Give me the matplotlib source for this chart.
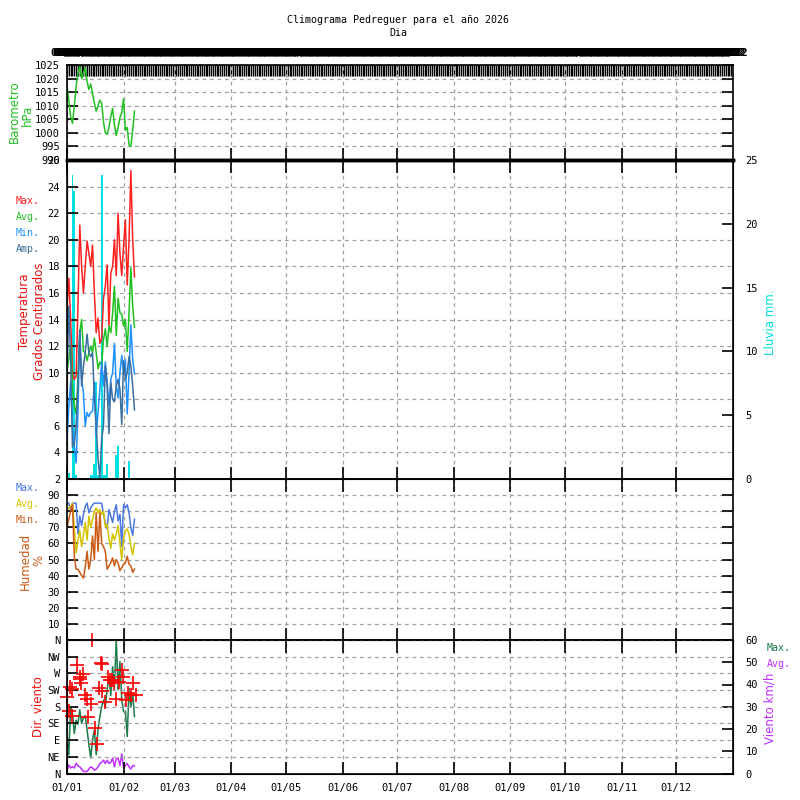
import matplotlib
matplotlib.use('Agg')
import matplotlib.pyplot as plt
import numpy as np
import datetime as dt

plt.rcParams['font.family'] = ['DejaVu Sans Mono']
plt.rcParams['font.size'] = 7.5

# ---------------- data ----------------
days = list(range(38))

baro = [1017.5, 1012, 1006, 1003.5, 1010, 1017, 1022, 1024.5, 1020, 1022, 1024, 1019,
        1016, 1018, 1014.5, 1011, 1008, 1010, 1012, 1011, 1004, 1000, 999.5, 1002,
        1006, 1009, 1003, 999, 1002, 1005.5, 1007.5, 1012.5, 1001, 1002, 995.5, 995,
        1001, 1008]

t_max = [14.9, 17.1, 14, 10, 9.5, 9.7, 15, 21.1, 18, 16, 18, 19.9, 19, 18, 19.6, 16,
         13, 14.1, 12.2, 12.5, 15.6, 16.5, 18.1, 13.5, 17.5, 18, 20, 17.3, 22, 19,
         17.3, 19.5, 21.5, 16.6, 20, 25.2, 20, 17.2]
t_avg = [10.1, 11, 12.1, 9, 7.5, 6.9, 9.5, 13, 14, 11.6, 11.5, 10.9, 11.5, 12, 11.5,
         12.6, 11.5, 10.3, 10.8, 10.6, 12.5, 13.3, 12, 13.5, 13, 14.5, 16.5, 12.8,
         15.6, 14.5, 14.4, 13.5, 14, 11.6, 14.5, 17.9, 15, 13.4]
t_min = [5.0, 7.5, 9.3, 6, 4.5, 3.2, 7, 13.2, 9.5, 8.5, 6.0, 7, 6.7, 7, 7.1, 9.3, 5.2,
         7, 8.7, 10.8, 9, 10.8, 9.3, 7.5, 9.5, 10, 12.2, 9, 8.1, 10, 11.3, 10, 11, 6.9,
         10, 13.6, 11, 9.9]
t_amp = [9.7, 15, 11, 4.4, 4.6, 6, 9, 13.2, 9, 10.5, 11.5, 12.9, 11.5, 11.2, 11.5, 8.2,
         6, 3.5, 2.1, 5, 6, 10.5, 9, 5.4, 9.3, 8, 7.8, 9, 9.5, 8.8, 6.1, 10.9, 9.5, 10,
         11.2, 10.5, 9, 7.2]
rain = [0.45, 0.45, 0, 23.8, 22.6, 0.3, 0, 0, 0, 0, 0, 0, 0, 0.3, 0.3, 1.2, 7.6, 0.3,
        0.3, 23.8, 0.3, 0.3, 1.2, 0, 0, 0, 0, 1.9, 2.6, 0, 0, 0, 0, 0, 1.4, 0, 0, 0]

h_max = [85, 85, 81, 85, 85, 85, 66, 77, 71, 78, 83, 85, 79, 82, 84, 85, 85, 85, 85, 85,
         78, 73, 69, 81, 77, 73, 80, 84, 74, 78, 58, 84, 82, 84, 79, 70, 65, 75]
h_avg = [81, 82, 83, 85, 70, 54, 62, 68, 58, 65, 73, 62, 77, 70, 75, 80, 82, 79, 81, 78,
         80, 70, 72, 63, 57, 66, 62, 66, 71, 60, 50, 63, 68, 69, 66, 58, 53, 60]
h_min = [70, 75, 80, 84, 52, 44, 44, 42, 40, 38.5, 45, 55, 44, 50, 64.6, 50, 79, 55, 79,
         60, 58, 55, 44, 46, 48, 51, 46, 50, 48, 43, 45, 47, 48, 52, 47, 46, 42, 44]

w_max = [18, 8.4, 30, 27, 18, 24, 22, 28.6, 22.6, 25, 26, 19.6, 13, 6.9, 15, 19.6, 8.4,
         20, 25.6, 30, 33, 30, 38, 43.5, 35, 48, 39, 60, 37.6, 50.3, 33, 27.8, 28, 16.6,
         38.3, 30, 36, 25.6]
w_avg = [1, 3.9, 2.5, 3, 2.5, 4.6, 3.5, 3, 2, 1, 0.9, 0.9, 2, 3, 2.5, 1.5, 2, 3, 4.5, 5,
         6, 4.5, 6, 4.5, 5, 6.9, 3, 6.5, 7, 3.5, 8.8, 2.5, 3.5, 4.5, 3, 2, 3.5, 3.5]

dir_days = [0, 1, 1.4, 2.8, 2.8, 5.3, 7.1, 6.9, 7.7, 9, 9.8, 11.2, 11.7, 13, 13.7, 15.4,
            16.3, 17.6, 18.5, 19.3, 19, 20.8, 22.3, 23.6, 24.8, 26, 26.8, 28.5, 29.9,
            30.8, 32.3, 33.6, 35, 36.4, 37.8]
dir_deg = [205, 169, 232, 227, 155, 293, 261, 254, 243, 267.5, 212, 200, 153.5, 187.6,
           360, 122, 80, 230, 297, 294.5, 223.5, 194, 261, 252, 252, 245, 200, 248, 279,
           261, 198, 216, 212, 245, 212]

month_pos = [0, 31, 59, 90, 120, 151, 181, 212, 243, 273, 304, 334]
month_labels = ['01/01', '01/02', '01/03', '01/04', '01/05', '01/06', '01/07',
                '01/08', '01/09', '01/10', '01/11', '01/12']
dir_labels = ['N', 'NE', 'E', 'SE', 'S', 'SW', 'W', 'NW', 'N']

start = dt.date(2026, 1, 1)
day_labels = [(start + dt.timedelta(days=i)).strftime('%d/%m') for i in range(365)]

# ---------------- layout ----------------
fig = plt.figure(figsize=(8, 8), dpi=100)
L = 67 / 800
W = 666 / 800


def rect(top, bottom):
    return [L, 1 - bottom / 800, W, (bottom - top) / 800]


ax_b = fig.add_axes(rect(65, 160))
ax_t = fig.add_axes(rect(160, 479))
ax_h = fig.add_axes(rect(479, 640))
ax_w = fig.add_axes(rect(640, 773.5))

GRID = dict(color='#a0a0a0', linestyle=(0, (3, 3)), linewidth=0.9)

for ax in (ax_b, ax_t, ax_h, ax_w):
    ax.set_xlim(0, 365)
    ax.set_xticks(month_pos)
    ax.set_xticklabels([])
    ax.tick_params(axis='x', which='major', direction='in', length=9, width=1.2,
                   top=True, bottom=True, color='black')
    ax.tick_params(axis='y', direction='in', length=8, width=1.2, pad=5)
    ax.grid(True, **GRID)
    for s in ax.spines.values():
        s.set_linewidth(1.2)

# barometer
ax_b.plot(days, baro, color='#22c022', lw=1.1)
ax_b.set_ylim(990, 1025)
ax_b.set_yticks(range(990, 1026, 5))
ax_b.tick_params(axis='y', right=True)
ax_b.spines['bottom'].set_linewidth(2.5)
ax_b.tick_params(axis='x', top=False)
sec = ax_b.secondary_xaxis('top')
sec.set_xticks(range(365))
sec.set_xticklabels(day_labels, fontsize=8, fontweight='bold')
sec.tick_params(direction='in', length=8, width=1, pad=5)

# temperature + rain
ax_r = ax_t.twinx()
ax_r.bar(days, rain, width=1.0, color='#00e0e0', align='center')
ax_r.set_ylim(0, 25)
ax_r.set_yticks(range(0, 26, 5))
ax_r.tick_params(axis='y', direction='in', length=8, width=1.2, pad=9)
ax_t.set_zorder(ax_r.get_zorder() + 1)
ax_t.patch.set_visible(False)
ax_t.plot(days, t_max, color='#ff2020', lw=1.1)
ax_t.plot(days, t_avg, color='#20c020', lw=1.1)
ax_t.plot(days, t_min, color='#1e90ff', lw=1.1)
ax_t.plot(days, t_amp, color='#3a6e9e', lw=1.1)
ax_t.set_ylim(2, 26)
ax_t.set_yticks(range(2, 27, 2))
ax_t.spines['top'].set_linewidth(2.5)

# humidity
ax_h.plot(days, h_max, color='#4a78e0', lw=1.1)
ax_h.plot(days, h_avg, color='#d4c400', lw=1.1)
ax_h.plot(days, h_min, color='#cc5a14', lw=1.1)
ax_h.set_ylim(0, 100)
ax_h.set_yticks(range(10, 100, 10))
ax_h.tick_params(axis='y', right=True)

# wind
ax_ws = ax_w.twinx()
ax_ws.plot(days, w_max, color='#1a7a4a', lw=1.1)
ax_ws.plot(days, w_avg, color='#c030ff', lw=1.1)
ax_ws.set_ylim(0, 60)
ax_ws.set_yticks(range(0, 61, 10))
ax_ws.tick_params(axis='y', direction='in', length=8, width=1.2, pad=9)
ax_w.set_zorder(ax_ws.get_zorder() + 1)
ax_w.patch.set_visible(False)
ax_w.scatter(dir_days, dir_deg, marker='+', s=90, color='red', linewidths=1.2,
             zorder=2, clip_on=False)
ax_w.set_ylim(0, 360)
ax_w.set_yticks(range(0, 361, 45))
ax_w.set_yticklabels(dir_labels)
ax_w.set_xticklabels(month_labels)
ax_w.tick_params(axis='x', pad=7)

# ---------------- texts ----------------
def ftext(x, y, s, **kw):
    fig.text(x / 800, 1 - y / 800, s, **kw)


ftext(398, 20, 'Climograma Pedreguer para el año 2026', ha='center', va='center',
      fontsize=7.2)
ftext(398, 33, 'Dia', ha='center', va='center', fontsize=7.2)

SANS = dict(family='DejaVu Sans', fontsize=8.5, rotation=90, ha='center', va='center')
ftext(14, 112, 'Barometro', color='#22c022', **SANS)
ftext(27, 115, 'hPa', color='#22c022', **SANS)
ftext(25, 311, 'Temperatura', color='#ee1010', **SANS)
ftext(39, 321, 'Grados Centigrados', color='#ee1010', **SANS)
ftext(25, 561, 'Humedad', color='#cc5a14', **SANS)
ftext(39, 560, '%', color='#cc5a14', **SANS)
ftext(38, 707, 'Dir. viento', color='#ee1010', **SANS)
ftext(771, 322, 'Lluvia mm.', color='#00e0e0', **SANS)
ftext(770, 708, 'Viento km/h', color='#c030ff', **SANS)

for y, s, c in [(201, 'Max.', '#ff2020'), (217, 'Avg.', '#20c020'),
                (233, 'Min.', '#1e90ff'), (249, 'Amp.', '#3a6e9e'),
                (488, 'Max.', '#4a78e0'), (504, 'Avg.', '#d4c400'),
                (520, 'Min.', '#cc5a14')]:
    ftext(16, y, s, color=c, ha='left', va='center', fontsize=7.2)
ftext(767, 648, 'Max.', color='#1a7a4a', ha='left', va='center', fontsize=7.2)
ftext(767, 664, 'Avg.', color='#c030ff', ha='left', va='center', fontsize=7.2)

fig.savefig('out.png', dpi=100)
